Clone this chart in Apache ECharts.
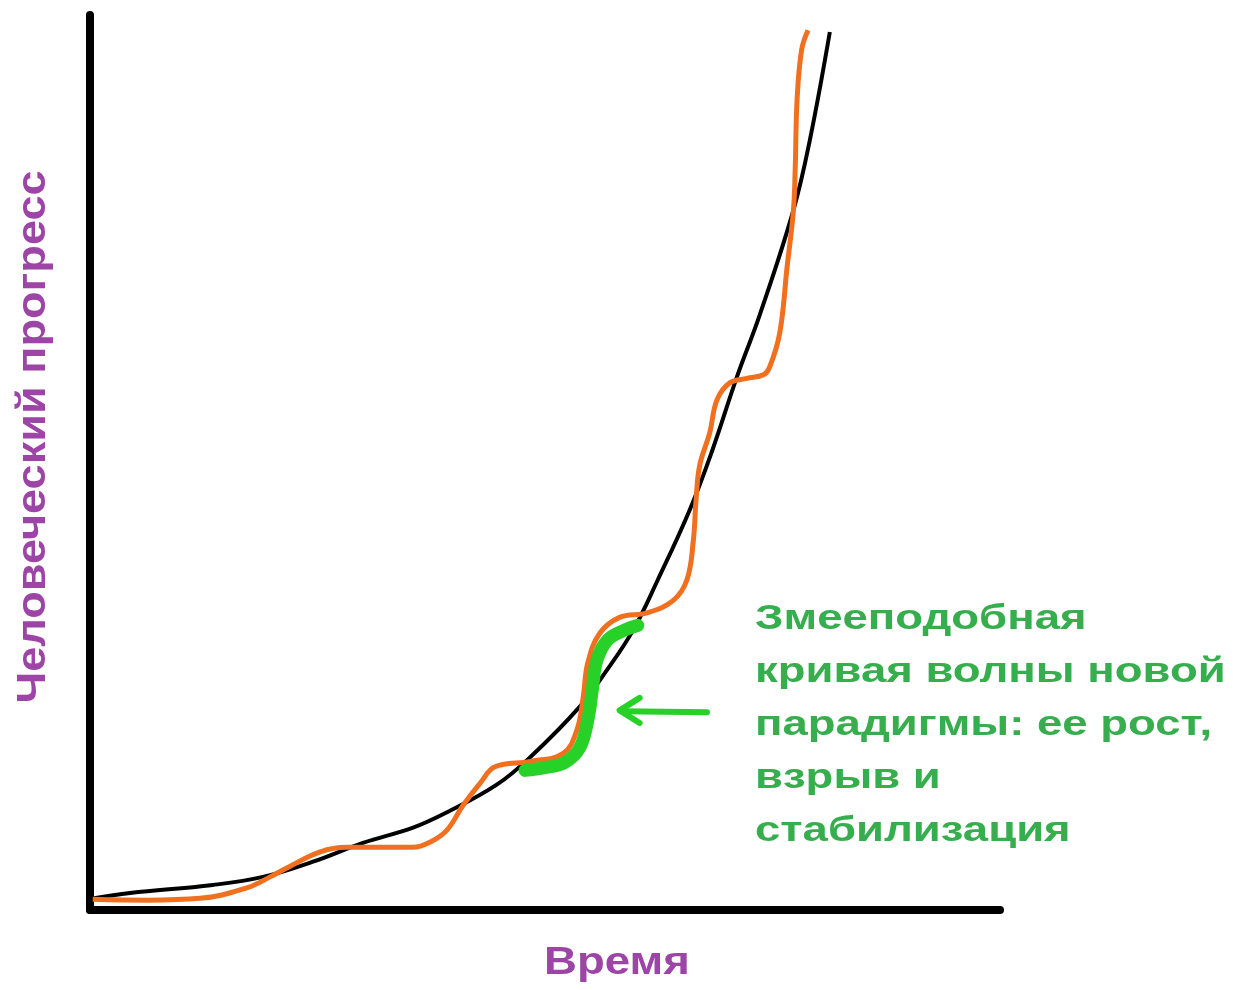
<!DOCTYPE html>
<html>
<head>
<meta charset="utf-8">
<script src="https://cdn.jsdelivr.net/npm/echarts@6/dist/echarts.min.js"></script>
<style>
html,body{margin:0;padding:0;background:#fff;}
#chart{width:1235px;height:990px;}
</style>
</head>
<body>
<div id="chart"></div>
<script>
// Trend (black) curve: [time, progress]
const trendCurve = [
  [0.3,1.3],[4.4,1.9],[13.5,2.8],[19.0,3.7],[24.5,5.4],[30.0,7.5],[35.5,9.2],
  [39.2,10.9],[44.7,14.0],[48.4,17.1],[53.8,22.7],[56.8,26.8],[59.7,31.3],
  [62.4,36.9],[65.9,44.7],[68.4,51.4],[71.1,59.6],[73.6,66.5],[77.3,78.2],
  [79.1,86.0],[81.3,98.1]
];
// Snake-like (orange) paradigm curve
const snakeCurve = [
  [0.3,1.2],[6.3,1.1],[12.1,1.3],[17.3,2.5],[19.8,3.7],[22.0,4.9],[25.3,6.5],
  [28.2,7.0],[31.9,7.0],[35.5,7.0],[37.4,7.6],[39.2,8.9],[41.0,11.7],[42.9,14.2],
  [44.5,16.0],[48.4,16.6],[52.0,17.5],[53.5,20.1],[54.2,23.8],[54.7,27.6],
  [56.0,30.9],[58.2,32.7],[61.2,33.2],[64.1,34.6],[65.6,36.9],[66.3,41.3],
  [66.6,45.8],[67.0,49.7],[68.1,53.3],[68.9,57.0],[70.3,58.9],[72.2,59.4],
  [74.0,59.8],[74.7,60.7],[75.8,64.5],[76.6,71.8],[77.3,78.2],[77.5,83.0],
  [77.7,90.5],[78.2,96.1],[78.9,98.3]
];
// Highlighted single paradigm S-curve (green)
const highlightCurve = [
  [47.8,15.6],[50.0,15.9],[52.2,16.5],[53.8,18.1],[54.7,21.2],[55.2,24.6],
  [55.7,27.9],[56.9,30.2],[58.8,31.3],[60.2,31.8]
];
// Arrow pointing to the highlighted curve
const arrowShaft = [[67.8,22.1],[58.4,22.2]];
const arrowHead = [[60.4,23.7],[58.2,22.3],[60.4,20.9]];

const xName = 'Время';
const yName = 'Человеческий прогресс';
const noteLines = ['Змееподобная','кривая волны новой','парадигмы: ее рост,','взрыв и','стабилизация'];

const chart = echarts.init(document.getElementById('chart'));
const axisCommon = {
  type:'value', min:0, max:100,
  axisTick:{show:false}, axisLabel:{show:false}, splitLine:{show:false},
  axisLine:{show:true, onZero:false, lineStyle:{color:'#000', width:8, cap:'round'}}
};
const purple = '#9c45a6';
chart.setOption({
  animation:false,
  backgroundColor:'#fff',
  grid:{left:90, right:235, top:15, bottom:80},
  xAxis:Object.assign({}, axisCommon),
  yAxis:Object.assign({}, axisCommon),
  series:[
    {type:'line', data:trendCurve, smooth:0.4, symbol:'none', lineStyle:{color:'#000', width:4}, z:2},
    {type:'line', data:snakeCurve, smooth:0.4, symbol:'none', lineStyle:{color:'#f07020', width:5}, z:3},
    {type:'line', data:highlightCurve, smooth:0.4, symbol:'none', lineStyle:{color:'#27d127', width:13, cap:'round'}, z:4},
    {type:'line', data:arrowShaft, symbol:'none', lineStyle:{color:'#27d127', width:6, cap:'round'}, z:4},
    {type:'line', data:arrowHead, symbol:'none', lineStyle:{color:'#27d127', width:6, cap:'round', join:'round'}, z:4}
  ],
  graphic:[
    {
      type:'text', x:755, y:593, scaleX:1.3, scaleY:1,
      style:{
        text:noteLines.join('\n'),
        fill:'#36ae4e',
        font:'bold 35px "Liberation Sans"',
        lineHeight:53,
        textAlign:'left', textVerticalAlign:'top'
      }
    },
    {
      type:'text', x:617, y:964, scaleX:1.2, scaleY:1,
      style:{
        text:xName, fill:purple,
        font:'bold 38px "Liberation Sans"',
        textAlign:'center', textVerticalAlign:'middle'
      }
    },
    {
      type:'text', x:34, y:437, rotation:Math.PI/2, scaleX:1.1, scaleY:1,
      style:{
        text:yName, fill:purple,
        font:'bold 41px "Liberation Sans"',
        textAlign:'center', textVerticalAlign:'middle'
      }
    }
  ]
});
</script>
</body>
</html>
